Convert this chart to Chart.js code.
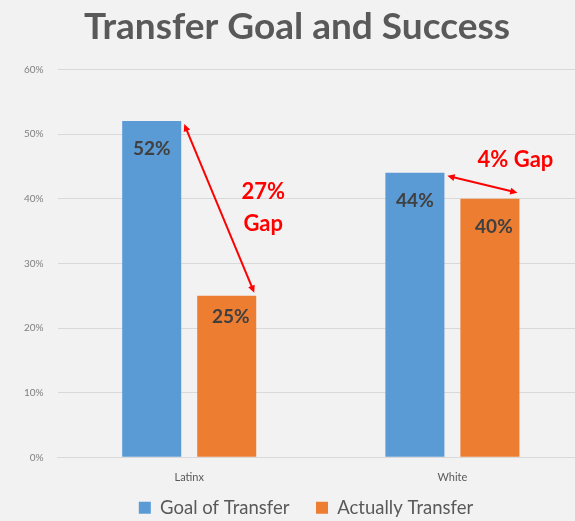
<!DOCTYPE html>
<html><head><meta charset="utf-8">
<script src="https://cdn.jsdelivr.net/npm/chart.js@4.4.1/dist/chart.umd.min.js"></script>
<style>
html,body{margin:0;padding:0;background:#f2f2f2;overflow:hidden}
#wrap{width:584px;height:521px;position:relative}
</style></head><body>
<div id="wrap"><canvas id="grafico"></canvas></div>
<script>
// Datos
const CATEGORIAS = ['Latinx', 'White'];
const META_TRANSFER = [52, 44];   // Goal of Transfer
const REAL_TRANSFER = [25, 40];   // Actually Transfer
const TICKS_Y = [0, 10, 20, 30, 40, 50, 60];
const TEXTO_BRECHA = [['27%', 'Gap'], ['4% Gap']];

const AZUL = '#5b9bd5';
const NARANJA = '#ed7d31';
const ROJO = '#ff0000';

// ── Etiquetas de valor dentro de las barras ──
const etiquetasPlugin = {
  id: 'etiquetas',
  afterDatasetsDraw(chart){
    const ctx = chart.ctx;
    ctx.save();
    ctx.font = 'bold 19px Lato';
    ctx.fillStyle = '#404040';
    ctx.textAlign = 'center';
    ctx.textBaseline = 'middle';
    chart.data.datasets.forEach((ds, di)=>{
      chart.getDatasetMeta(di).data.forEach((bar, i)=>{
        // la barra baja de Latinx lleva la etiqueta algo más arriba
        const dy = (bar.base - bar.y) < 200 ? 21 : 28;
        ctx.fillText(ds.data[i] + '%', bar.x + (di ? 4 : 0), bar.y + dy);
      });
    });
    ctx.restore();
  }
};

// ── Flechas de brecha ──
function flecha(ctx, x1, y1, x2, y2){
  const ang = Math.atan2(y2 - y1, x2 - x1);
  const L = 8, A = 0.45;
  ctx.beginPath();
  ctx.moveTo(x1 + Math.cos(ang) * 4, y1 + Math.sin(ang) * 4);
  ctx.lineTo(x2 - Math.cos(ang) * 4, y2 - Math.sin(ang) * 4);
  ctx.stroke();
  [[x1, y1, ang], [x2, y2, ang + Math.PI]].forEach(([x, y, a])=>{
    ctx.beginPath();
    ctx.moveTo(x, y);
    ctx.lineTo(x + L * Math.cos(a - A), y + L * Math.sin(a - A));
    ctx.lineTo(x + L * Math.cos(a + A), y + L * Math.sin(a + A));
    ctx.closePath();
    ctx.fill();
  });
}

const brechaPlugin = {
  id: 'brecha',
  afterDatasetsDraw(chart){
    const ctx = chart.ctx;
    const azul = chart.getDatasetMeta(0).data;
    const nar  = chart.getDatasetMeta(1).data;
    ctx.save();
    ctx.strokeStyle = ROJO;
    ctx.fillStyle = ROJO;
    ctx.lineWidth = 2;
    ctx.font = 'bold 22px Lato';
    ctx.textAlign = 'center';
    ctx.textBaseline = 'middle';
    azul.forEach((b, i)=>{
      const o = nar[i];
      const x1 = b.x + b.width / 2 + 3, y1 = b.y + 3;
      const x2 = o.x + o.width / 2 - 2, y2 = o.y - (i ? 6 : 3);
      flecha(ctx, x1, y1, x2, y2);
      const lineas = TEXTO_BRECHA[i];
      if(lineas.length > 1){
        const cx = o.x + o.width / 2 + 7, cy = (b.y + o.y) / 2;
        ctx.fillText(lineas[0], cx, cy - 16);
        ctx.fillText(lineas[1], cx, cy + 16);
      } else {
        ctx.fillText(lineas[0], o.x + o.width / 2 - 4, (y1 + y2) / 2 - 24);
      }
    });
    ctx.restore();
  }
};

// La leyenda del original está algo desplazada a la derecha
const leyendaPlugin = {
  id: 'leyendaDesplazada',
  afterLayout(chart){
    if(chart.legend){ chart.legend.left += 9; chart.legend.right += 9; }
  }
};

new Chart(document.getElementById('grafico'), {
  type: 'bar',
  data: {
    labels: CATEGORIAS,
    datasets: [
      { label: 'Goal of Transfer',  data: META_TRANSFER, backgroundColor: AZUL,    borderWidth: 0 },
      { label: 'Actually Transfer', data: REAL_TRANSFER, backgroundColor: NARANJA, borderWidth: 0 }
    ]
  },
  options: {
    responsive: true,
    maintainAspectRatio: false,
    animation: false,
    datasets: { bar: { categoryPercentage: 0.57, barPercentage: 0.787 } },
    layout: { padding: { left: 10, right: 0, top: 2, bottom: -6 } },
    plugins: {
      title: {
        display: true,
        text: 'Transfer Goal and Success',
        color: '#595959',
        font: { family: 'Lato', size: 37, weight: 'bold' },
        padding: { top: 3, bottom: 20 }
      },
      legend: {
        position: 'bottom',
        labels: {
          color: '#595959',
          font: { family: 'Lato', size: 18.5 },
          boxWidth: 12, boxHeight: 12, padding: 8,
          // espacios extra tras el primer texto separan las entradas como en el original
          generateLabels: chart => Chart.defaults.plugins.legend.labels.generateLabels(chart)
            .map((it, i) => i === 0 ? { ...it, text: it.text + '\u00a0\u00a0\u00a0\u00a0' } : it)
        }
      },
      tooltip: { enabled: false }
    },
    scales: {
      x: {
        grid: { display: false },
        border: { color: '#d9d9d9' },
        ticks: { color: '#595959', font: { family: 'Lato', size: 11 }, padding: 6 }
      },
      y: {
        min: 0, max: 60,
        afterBuildTicks: ax => { ax.ticks = TICKS_Y.map(v => ({ value: v })); },
        grid: { color: '#d9d9d9', drawTicks: false },
        border: { display: false },
        ticks: { color: '#7f7f7f', font: { family: 'Lato', size: 10 }, padding: 14, callback: v => v + '%' }
      }
    }
  },
  plugins: [etiquetasPlugin, brechaPlugin, leyendaPlugin]
});
</script>
</body></html>
